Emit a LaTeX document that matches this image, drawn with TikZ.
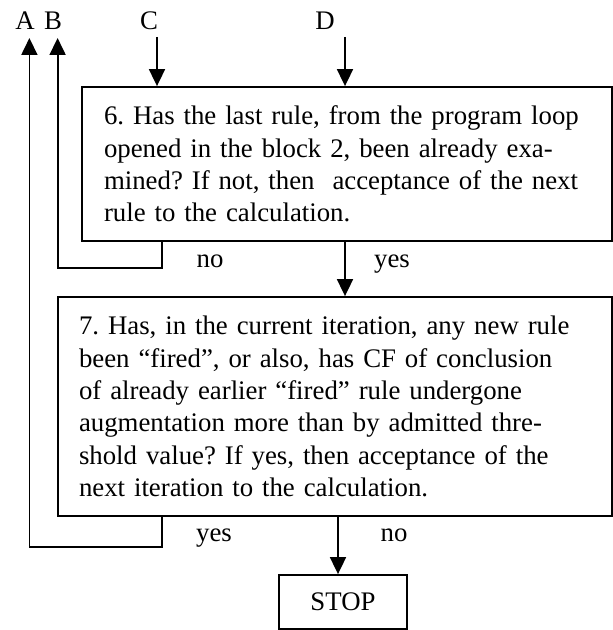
\documentclass[tikz,border=0pt]{standalone}
\usepackage{fontspec}
\setmainfont{Liberation Serif}
\usepackage{tikz}
\usetikzlibrary{arrows.meta, positioning}
\tikzstyle{blockbox} = [rectangle, draw=black, align=left, inner xsep=10.5pt, inner ysep=0pt, font=\fontsize{13.4}{16.2}\selectfont\frenchspacing]
\tikzstyle{stopbox} = [rectangle, draw=black, minimum width=64pt, minimum height=27pt, font=\fontsize{13.4}{16.2}\selectfont]
\tikzstyle{tag} = [inner sep=0pt, anchor=base, font=\fontsize{13.4}{16.2}\selectfont]
\tikzstyle{arrow} = [-{Triangle[length=8.5pt,width=8pt]}]

\begin{document}
\begin{tikzpicture}[x=0.5pt, y=-0.5pt, line width=0.9pt]
        \useasboundingbox (0,0) rectangle (613,630);
        % Blocks
        \node[blockbox, text width=243pt, minimum width=265pt, minimum height=77pt] (box6) at (347,164) {6. Has the last rule, from the program loop\\opened in the block 2, been already exa-\\mined? If not, then~ acceptance of the next\\rule to the calculation.};
        \node[blockbox, text width=256pt, minimum width=277pt, minimum height=109.5pt] (box7) at (335,406.5) {7. Has, in the current iteration, any new rule\\been “fired”, or also, has CF of conclusion\\of already earlier “fired” rule undergone\\augmentation more than by admitted thre-\\shold value? If yes, then acceptance of the\\next iteration to the calculation.};
        \node[stopbox] (stop) at (343,602) {STOP};
        
        % Connector labels
        \node[tag] (A) at (25,30) {A};
        \node[tag] (B) at (53,30) {B};
        \node[tag] (C) at (149,30) {C};
        \node[tag] (D) at (325,30) {D};
        \coordinate (Ain) at (29.4,38);
        \coordinate (Bin) at (57.6,38);
        \coordinate (Cout) at (157,37);
        \coordinate (Dout) at (345,37);
        \coordinate (back) at (162,0);
        
        % Connections
        \draw[arrow] (Cout) -- (Cout |- box6.north);
        \draw[arrow] (Dout) -- (Dout |- box6.north);
        \draw[arrow] (back |- box6.south) -- ++(0,26) -| (Bin);
        \draw[arrow] (Dout |- box6.south) -- (Dout |- box7.north);
        \draw[arrow] (back |- box7.south) -- ++(0,30) -| (Ain);
        \draw[arrow] ([xshift=-2.5pt]stop.north |- box7.south) -- ([xshift=-2.5pt]stop.north);
        
        % Answers
        \node[tag] (no6) at (210,268) {no};
        \node[tag] (yes6) at (392,268) {yes};
        \node[tag] (yes7) at (214,541) {yes};
        \node[tag] (no7) at (394,541) {no};
    \end{tikzpicture}
\end{document}
